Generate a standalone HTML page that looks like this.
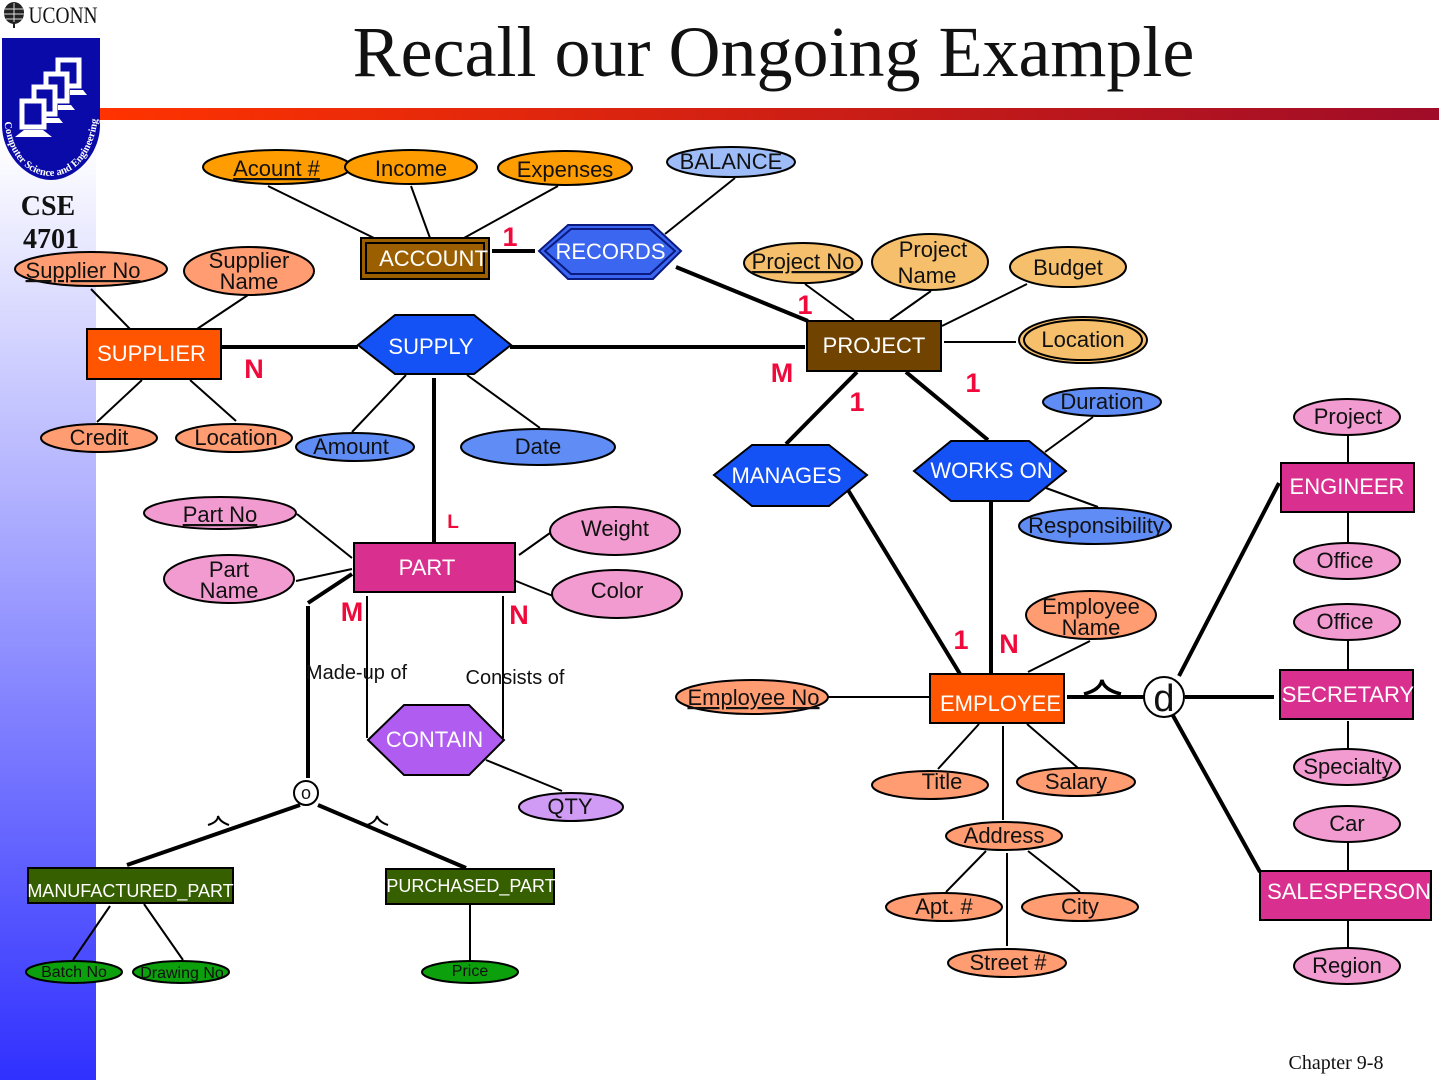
<!DOCTYPE html>
<html><head><meta charset="utf-8"><style>html,body{margin:0;padding:0;background:#fff}svg{display:block}
text{font-family:"Liberation Sans",sans-serif;font-size:22px;fill:#111;text-anchor:middle}
.w{fill:#fff}.s{font-family:"Liberation Serif",serif}.r{fill:#f00a3c;font-weight:bold;font-size:27px}
.e{stroke:#000;stroke-width:2}.l{stroke:#000;stroke-width:2;fill:none}.t{stroke:#000;stroke-width:4;fill:none}</style></head><body>
<svg width="1440" height="1080" viewBox="0 0 1440 1080" xmlns="http://www.w3.org/2000/svg">
<defs>
<linearGradient id="side" x1="0" y1="0" x2="0" y2="1"><stop offset="0.13" stop-color="#fff"/><stop offset="1" stop-color="#3030ff"/></linearGradient>
<linearGradient id="bar" x1="0" y1="0" x2="1" y2="0"><stop offset="0" stop-color="#ff3300"/><stop offset="1" stop-color="#a00c28"/></linearGradient>
</defs>
<rect x="0" y="0" width="96" height="1080" fill="url(#side)"/>
<rect x="100" y="108" width="1339" height="12" fill="url(#bar)"/>
<!-- logo -->
<path d="M2 38H100V125C100 155 75 180 51 180C27 180 2 155 2 125Z" fill="#0a0aa8"/>
<g fill="#0a0aa8" stroke="#fff" stroke-width="5">
<rect x="58" y="60" width="21" height="26"/><path d="M70 90H83L87 95H70Z" fill="#fff" stroke="none"/>
<rect x="46" y="74" width="21" height="27"/><path d="M58 105H71L75 110H58Z" fill="#fff" stroke="none"/>
<rect x="34" y="87" width="21" height="27"/><path d="M46 118H59L63 123H46Z" fill="#fff" stroke="none"/>
<rect x="22" y="101" width="22" height="26"/></g>
<path d="M15 137L24 130H43L52 137Z" fill="#fff"/>
<path id="arc" d="M4 118C8 165 35 176 51 176C70 176 94 160 98 115" fill="none"/>
<text class="s" style="font-size:10.5px;fill:#fff;font-weight:bold"><textPath href="#arc" startOffset="50%">Computer Science and Engineering</textPath></text>
<!-- UCONN oak -->
<ellipse cx="14" cy="13" rx="10" ry="11" fill="#222"/>
<path d="M14 3V28M5 9L23 9M4 14L24 14M6 19L22 19" stroke="#ddd" stroke-width="1" fill="none"/>
<path d="M14 22V28" stroke="#222" stroke-width="2"/>
<text x="63" y="23" class="s" style="font-size:23px" textLength="69" lengthAdjust="spacingAndGlyphs">UCONN</text>
<text x="48" y="215" class="s" style="font-size:28px;font-weight:bold">CSE</text>
<text x="51" y="248" class="s" style="font-size:28px;font-weight:bold">4701</text>
<text x="773.5" y="76" class="s" style="font-size:72px">Recall our Ongoing Example</text>
<text x="1336" y="1069" class="s" style="font-size:20px">Chapter 9-8</text>

<!-- thin lines -->
<path class="l" d="M268 186L374 238M411 186L430 238M558 186L464 238M735 178L665 234M91 289L130 329M248 295L197 329M142 380L97 422M190 380L236 421M406 375L352 432M467 375L540 428M297 514L352 558M296 581L352 569M519 555L550 533M516 581L553 596M367 596V738M503 596V738M486 760L562 791M805 284L854 320M931 291L890 320M1027 284L942 326M944 342H1016M1093 417L1045 452M1046 488L1098 507M1090 641L1028 672M820 697H930M979 724L938 769M1027 724L1078 768M1003 726V820M986 851L946 892M1028 851L1080 892M1007 853V946M1348 435V462M1348 513V542M1348 640V669M1348 721V748M1348 842V870M1348 921V948M110 906L73 960M144 904L183 960M470 905V960"/>
<!-- thick lines -->
<path class="t" d="M492 251H535M676 267L808 321M222 347H358M510 347H805M434 378V542M857 372L786 444M906 372L988 440M848 490L960 674M991 500V674M352 574L308 603M308 606V778M1067 697H1145M1185 697H1274M1179 676L1279 483M1171 712L1260 872M300 805L127 865M318 805L466 868"/>
<!-- entities -->
<rect x="361" y="238" width="128" height="41" fill="#9c5f00" stroke="#000" stroke-width="2"/>
<rect x="366" y="243" width="118" height="30" fill="none" stroke="#000" stroke-width="2"/>
<rect x="87" y="329" width="134" height="50" fill="#ff5500" class="e"/>
<rect x="807" y="321" width="134" height="50" fill="#714300" class="e"/>
<rect x="354" y="543" width="161" height="49" fill="#d9308f" class="e"/>
<rect x="930" y="674" width="134" height="49" fill="#ff5500" class="e"/>
<rect x="1281" y="463" width="133" height="49" fill="#d9308f" class="e"/>
<rect x="1280" y="670" width="133" height="49" fill="#d9308f" class="e"/>
<rect x="1260" y="871" width="171" height="49" fill="#d9308f" class="e"/>
<rect x="28" y="868" width="205" height="35" fill="#366000" class="e"/>
<rect x="386" y="869" width="168" height="35" fill="#366000" class="e"/>
<!-- relationships -->
<polygon points="539,251 568,225 653,225 681,251 653,279 568,279" fill="#3a66f0" stroke="#0a1a80" stroke-width="2"/>
<polygon points="545,251 571,229 650,229 675,251 650,274 571,274" fill="#3a66f0" stroke="#0a1a80" stroke-width="2"/>
<polygon points="358,345 395,315 474,315 511,345 474,374 395,374" fill="#1452f5" class="e"/>
<polygon points="714,475 752,445 829,445 867,475 829,506 752,506" fill="#1452f5" class="e"/>
<polygon points="914,471 951,441 1029,441 1066,471 1029,501 951,501" fill="#1452f5" class="e"/>
<polygon points="368,740 404,705 469,705 504,740 469,775 404,775" fill="#b05cf0" class="e"/>
<!-- attributes -->
<g class="e">
<g fill="#ff9d00"><ellipse cx="277" cy="167" rx="74" ry="17"/><ellipse cx="411" cy="167" rx="66" ry="17"/><ellipse cx="565" cy="168" rx="67" ry="17"/></g>
<ellipse cx="731" cy="162" rx="64" ry="15" fill="#9dbcf8"/>
<g fill="#ff9c72"><ellipse cx="91" cy="269" rx="76" ry="17"/><ellipse cx="249" cy="271" rx="65" ry="24"/><ellipse cx="99" cy="438" rx="58" ry="14"/><ellipse cx="234" cy="438" rx="58" ry="14"/></g>
<g fill="#f5bf6c"><ellipse cx="803" cy="263" rx="59" ry="20"/><ellipse cx="930" cy="262" rx="58" ry="28"/><ellipse cx="1068" cy="267" rx="58" ry="20"/><ellipse cx="1083" cy="340" rx="64" ry="23"/></g>
<ellipse cx="1083" cy="340" rx="59" ry="20" fill="#f5bf6c"/>
<g fill="#5f8cf5"><ellipse cx="355" cy="447" rx="59" ry="14"/><ellipse cx="538" cy="447" rx="77" ry="18"/><ellipse cx="1102" cy="402" rx="59" ry="14"/><ellipse cx="1095" cy="526" rx="76" ry="18"/></g>
<g fill="#f29bd0"><ellipse cx="220" cy="513" rx="76" ry="16"/><ellipse cx="229" cy="579" rx="65" ry="24"/><ellipse cx="615" cy="531" rx="65" ry="24"/><ellipse cx="617" cy="594" rx="65" ry="24"/>
<ellipse cx="1347" cy="417" rx="53" ry="18"/><ellipse cx="1347" cy="561" rx="53" ry="18"/><ellipse cx="1347" cy="622" rx="53" ry="18"/><ellipse cx="1347" cy="767" rx="53" ry="18"/><ellipse cx="1347" cy="824" rx="53" ry="18"/><ellipse cx="1347" cy="966" rx="53" ry="18"/></g>
<ellipse cx="571" cy="807" rx="52" ry="14" fill="#d09bf5"/>
<g fill="#ff9c72"><ellipse cx="1091" cy="615" rx="65" ry="24"/><ellipse cx="752" cy="697" rx="76" ry="17"/><ellipse cx="930" cy="785" rx="58" ry="14"/><ellipse cx="1076" cy="782" rx="59" ry="14"/><ellipse cx="1004" cy="836" rx="58" ry="14"/><ellipse cx="944" cy="907" rx="58" ry="14"/><ellipse cx="1080" cy="907" rx="58" ry="14"/><ellipse cx="1007" cy="963" rx="59" ry="14"/></g>
<g fill="#0da00d"><ellipse cx="74" cy="972" rx="48" ry="11"/><ellipse cx="181" cy="972" rx="48" ry="11"/><ellipse cx="470" cy="972" rx="48" ry="11"/></g>
</g>
<circle cx="1164" cy="697" r="20" fill="#fff" stroke="#000" stroke-width="2"/>
<circle cx="306" cy="793" r="12" fill="#fff" stroke="#000" stroke-width="2"/>
<!-- subset symbols -->
<path class="l" style="stroke-width:3.5" d="M1084 694Q1100 690 1102 680Q1104 690 1121 694"/>
<path class="l" d="M208 825Q218 822 218 816Q220 822 229 825M367 825Q376 822 377 816Q379 822 388 825"/>
<!-- attr labels -->
<text x="276.5" y="176" text-decoration="underline">Acount #</text><text x="411" y="176">Income</text><text x="565" y="177">Expenses</text><text x="731" y="169">BALANCE</text>
<text x="83" y="278" text-decoration="underline">Supplier No</text><text x="249" y="268">Supplier</text><text x="249" y="289">Name</text>
<text x="99" y="445">Credit</text><text x="236" y="445">Location</text><text x="351" y="454">Amount</text><text x="538" y="454">Date</text>
<text x="803" y="269" text-decoration="underline">Project No</text><text x="933" y="257">Project</text><text x="927" y="283">Name</text><text x="1068" y="275">Budget</text><text x="1083" y="347">Location</text>
<text x="1102" y="409">Duration</text><text x="1096" y="533">Responsibility</text>
<text x="220" y="522" text-decoration="underline">Part No</text><text x="229" y="577">Part</text><text x="229" y="598">Name</text><text x="615" y="536">Weight</text><text x="617" y="598">Color</text>
<text x="1348" y="424">Project</text><text x="1345" y="568">Office</text><text x="1345" y="629">Office</text><text x="1348" y="774">Specialty</text><text x="1347" y="831">Car</text><text x="1347" y="973">Region</text>
<text x="570" y="814">QTY</text><text x="1091" y="614">Employee</text><text x="1091" y="635">Name</text><text x="753.5" y="705" text-decoration="underline">Employee No</text>
<text x="942" y="789">Title</text><text x="1076" y="789">Salary</text><text x="1004" y="843">Address</text><text x="944" y="914">Apt. #</text><text x="1080" y="914">City</text><text x="1008" y="970">Street #</text>
<text x="74" y="977" style="font-size:16px">Batch No</text><text x="182" y="978" style="font-size:16px">Drawing No</text><text x="470" y="976" style="font-size:16px">Price</text>
<text x="1164" y="711" style="font-size:38px">d</text><text x="306" y="799" style="font-size:18px">o</text>
<text x="356.5" y="679" style="font-size:20px">Made-up of</text><text x="515" y="684" style="font-size:20px">Consists of</text>
<!-- white labels -->
<g style="fill:#fff"><text class="w" x="433.5" y="266">ACCOUNT</text><text class="w" x="610.5" y="259">RECORDS</text><text class="w" x="151.5" y="361">SUPPLIER</text><text class="w" x="431" y="354">SUPPLY</text><text class="w" x="874" y="353">PROJECT</text><text class="w" x="786.5" y="483">MANAGES</text><text class="w" x="991.5" y="478">WORKS ON</text><text class="w" x="427" y="575">PART</text><text class="w" x="434.5" y="747">CONTAIN</text><text class="w" x="1000.5" y="711">EMPLOYEE</text><text class="w" x="1347" y="494">ENGINEER</text><text class="w" x="1348" y="702">SECRETARY</text><text class="w" x="1349" y="899">SALESPERSON</text><text class="w" x="130.5" y="897" style="font-size:18px">MANUFACTURED_PART</text><text class="w" x="471" y="892" style="font-size:18px">PURCHASED_PART</text></g>
<!-- cardinalities -->
<text class="r" x="510" y="246">1</text><text class="r" x="805" y="314">1</text><text class="r" x="254" y="378">N</text><text class="r" x="782" y="382">M</text><text class="r" x="973" y="392">1</text><text class="r" x="857" y="411">1</text><text class="r" x="453" y="528" style="font-size:19px">L</text><text class="r" x="352" y="621">M</text><text class="r" x="519" y="624">N</text><text class="r" x="961" y="649">1</text><text class="r" x="1009" y="653">N</text>
</svg>
</body></html>
